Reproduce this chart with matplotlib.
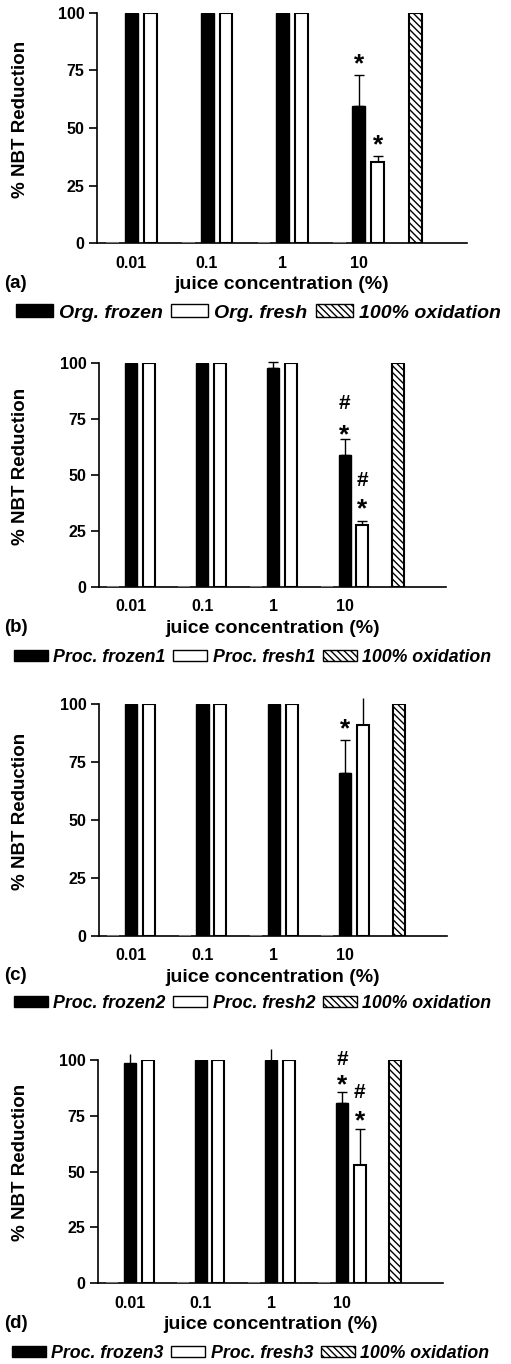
import matplotlib
matplotlib.use('Agg')
import matplotlib.pyplot as plt
import matplotlib.transforms as mtransforms
from matplotlib.patches import Patch
import numpy as np

plt.rcParams.update({
    'font.family': ['Liberation Sans', 'DejaVu Sans'],
    'font.weight': 'bold',
    'hatch.linewidth': 1.0,
    'axes.linewidth': 1.2,
})

# -- Data --
concentrations = ['0.01', '0.1', '1', '10']

frozen_a = [100, 100, 100, 59.7]
frozen_a_err = [0, 0, 0, 13.2]
fresh_a = [100, 100, 100, 35.2]
fresh_a_err = [0, 0, 0, 2.6]

frozen_b = [100, 100, 97.8, 59.1]
frozen_b_err = [0, 0, 2.5, 6.9]
fresh_b = [100, 100, 100, 27.5]
fresh_b_err = [0, 0, 0, 1.9]

frozen_c = [100, 100, 100, 70.2]
frozen_c_err = [0, 0, 0, 14.4]
fresh_c = [100, 100, 100, 91.1]
fresh_c_err = [0, 0, 0, 11.5]

frozen_d = [98.5, 100, 100, 80.5]
frozen_d_err = [4.2, 0, 4.9, 5.0]
fresh_d = [100, 100, 100, 53.1]
fresh_d_err = [0, 0, 0, 16.1]

oxidation = 100

# significance marks: (concentration index, series, symbol, y)
marks_a = [(3, 'frozen', '*', 80.1), (3, 'fresh', '*', 44.9)]
marks_b = [(3, 'frozen', '#', 82.4), (3, 'frozen', '*', 70.4),
           (3, 'fresh', '#', 48.0), (3, 'fresh', '*', 37.3)]
marks_c = [(3, 'frozen', '*', 91.8)]
marks_d = [(3, 'frozen', '#', 101.0), (3, 'frozen', '*', 91.5),
           (3, 'fresh', '#', 86.1), (3, 'fresh', '*', 75.3)]

legend_a = ['Org. frozen', 'Org. fresh', '100% oxidation']
legend_b = ['Proc. frozen1', 'Proc. fresh1', '100% oxidation']
legend_c = ['Proc. frozen2', 'Proc. fresh2', '100% oxidation']
legend_d = ['Proc. frozen3', 'Proc. fresh3', '100% oxidation']

W, H = 511, 1364
fig = plt.figure(figsize=(W / 100, H / 100), dpi=100)

# pixel layout of each panel: (left, right, y of 100, y of 0, legend y, legend x, legend size)
panels = [
    ('(a)', frozen_a, frozen_a_err, fresh_a, fresh_a_err, marks_a, legend_a,
     (97, 467, 13, 243, 313, 16, 14)),
    ('(b)', frozen_b, frozen_b_err, fresh_b, fresh_b_err, marks_b, legend_b,
     (99, 446, 363, 587, 657, 14, 12.8)),
    ('(c)', frozen_c, frozen_c_err, fresh_c, fresh_c_err, marks_c, legend_c,
     (99, 447, 704, 936, 1003, 14, 12.8)),
    ('(d)', frozen_d, frozen_d_err, fresh_d, fresh_d_err, marks_d, legend_d,
     (98, 443, 1060, 1283, 1353, 12, 12.8)),
]

bw = 0.68
HATCH = '\\\\\\\\\\'


def draw_panel(tag, frozen, frozen_err, fresh, fresh_err, marks, labels, box):
    left, right, y100, y0, ly, lx, lsize = box
    ax = fig.add_axes([left / W, (H - y0) / H, (right - left) / W, (y0 - y100) / H])
    n = len(concentrations)
    g = np.arange(n) * 4
    x_ctrl, x_frozen, x_fresh = g, g + 1, g + 2
    x_ox = n * 4

    # zero-height control bars
    ax.bar(x_ctrl, np.zeros(n), bw, color='white', edgecolor='#777777',
           linewidth=1.5, zorder=3)
    ax.bar(x_frozen, frozen, bw, color='black', edgecolor='black',
           linewidth=1.0, zorder=3)
    ax.bar(x_fresh, fresh, bw, color='white', edgecolor='black',
           linewidth=1.5, zorder=3)
    ax.bar([x_ox], [oxidation], bw, color='white', edgecolor='black',
           linewidth=1.5, hatch=HATCH, zorder=3)

    for xs, vals, errs in [(x_frozen, frozen, frozen_err), (x_fresh, fresh, fresh_err)]:
        for xv, v, e in zip(xs, vals, errs):
            if e > 0:
                cap = 3.5 if v + e < 101 else 0
                ax.errorbar([xv], [v], yerr=[[0], [e]], fmt='none', ecolor='black',
                            elinewidth=1.0, capsize=cap, capthick=1.0,
                            clip_on=False, zorder=2)

    for idx, series, sym, yv in marks:
        xv = x_frozen[idx] if series == 'frozen' else x_fresh[idx]
        if sym == '*':
            off = mtransforms.ScaledTranslation(0, -13 / 100, fig.dpi_scale_trans)
            ax.text(xv, yv, '*', ha='center', va='baseline', fontsize=19,
                    fontweight='bold', transform=ax.transData + off, clip_on=False)
        else:
            off = mtransforms.ScaledTranslation(0, -7 / 100, fig.dpi_scale_trans)
            ax.text(xv, yv, '#', ha='center', va='baseline', fontsize=15,
                    fontweight='bold', transform=ax.transData + off, clip_on=False)

    ax.set_xlim(-0.8, 18.7)
    ax.set_ylim(0, 100)
    ax.set_yticks([0, 25, 50, 75, 100])
    ax.set_xticks(x_frozen)
    ax.set_xticklabels(concentrations)
    ax.tick_params(axis='x', length=0, pad=9, labelsize=11.5)
    ax.tick_params(axis='y', length=6, width=1.2, pad=3, labelsize=11.5)
    for lab in ax.get_xticklabels() + ax.get_yticklabels():
        lab.set_fontweight('bold')
    ax.spines['top'].set_visible(False)
    ax.spines['right'].set_visible(False)

    ax.set_xlabel('juice concentration (%)', fontsize=14, fontweight='bold', labelpad=4)
    fig.text(21 / W, 1 - ((y100 + y0) / 2 - 9) / H, '% NBT Reduction', rotation=90,
             ha='center', va='center', fontsize=13.5, fontweight='bold')
    fig.text(4 / W, 1 - (y0 + 40) / H, tag, ha='left', va='center',
             fontsize=13.5, fontweight='bold')

    handles = [Patch(facecolor='black', edgecolor='black'),
               Patch(facecolor='white', edgecolor='black', linewidth=1.0),
               Patch(facecolor='white', edgecolor='black', linewidth=1.0, hatch=HATCH)]
    ax.legend(handles, labels, loc='center left',
              bbox_to_anchor=(lx / W, 1 - ly / H), bbox_transform=fig.transFigure,
              ncol=3, frameon=False, handlelength=1.9, handleheight=0.6,
              handletextpad=0.3, columnspacing=0.45, borderaxespad=0,
              borderpad=0, prop={'size': lsize, 'weight': 'bold', 'style': 'italic'})


for p in panels:
    draw_panel(*p)

fig.savefig('out.png', dpi=100)
